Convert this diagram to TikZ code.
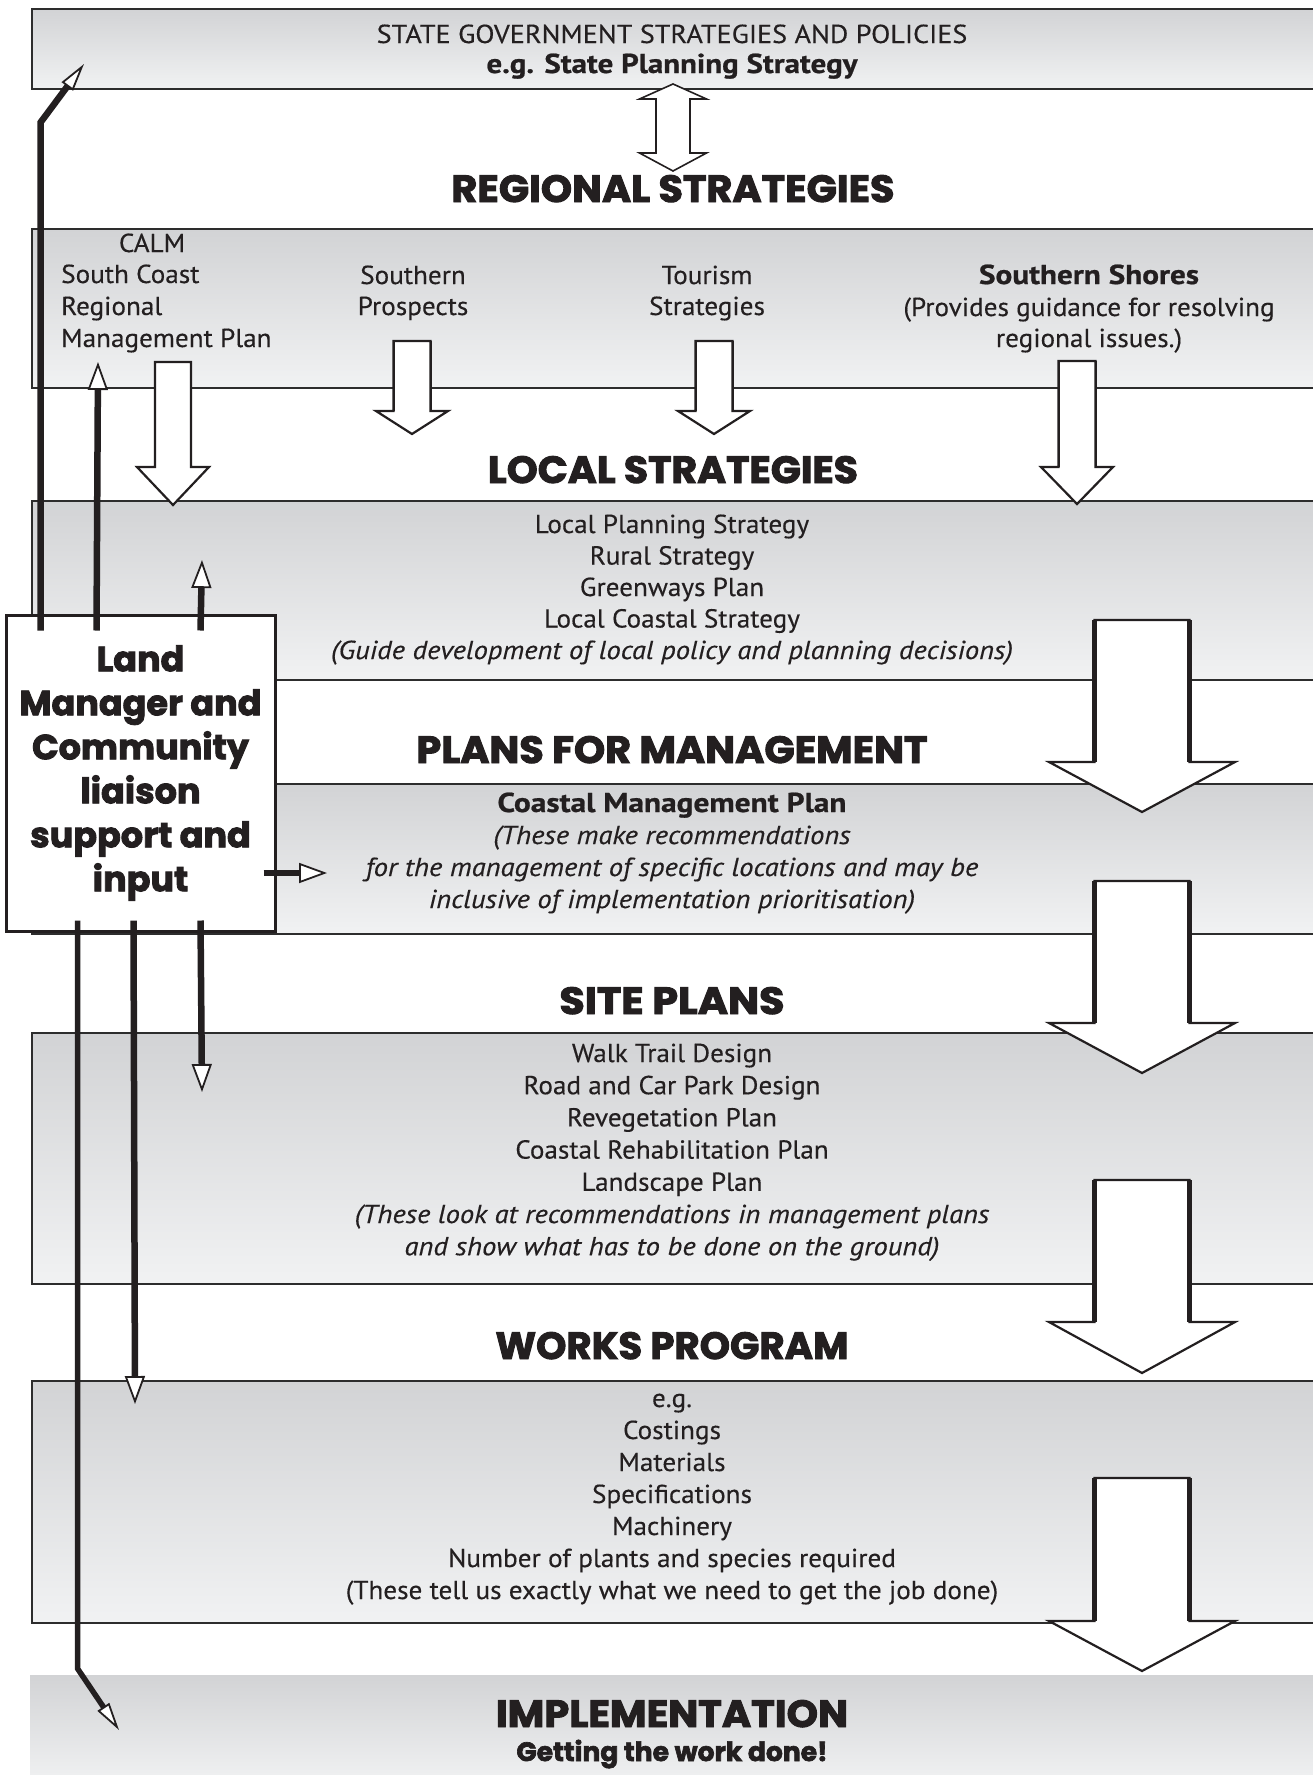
\documentclass[tikz,border=0pt]{standalone}
\usepackage{fontspec}
\usepackage{graphicx}
\setmainfont{PT Sans}[UprightFeatures={FakeStretch=1.045, FakeBold=0.3}, ItalicFeatures={FakeStretch=1.1, FakeBold=0.3},
  BoldFeatures={FakeStretch=1.18, FakeBold=0.8}]
\newfontfamily\heavyfont{Poppins}[BoldFeatures={FakeBold=2.5}]
\usetikzlibrary{arrows.meta,calc}
\definecolor{ink}{RGB}{35,31,32}
\definecolor{bandtop}{RGB}{210,211,213}
\definecolor{bandbot}{RGB}{241,242,243}
\definecolor{edge}{RGB}{45,45,45}
\newcommand\HeadTxt[2]{\resizebox{#1pt}{27pt}{\heavyfont\bfseries #2}}
\newcommand\BoldTxt[2]{\resizebox{#1pt}{19.5pt}{\bfseries #2}}
\newcommand\BlkArrow[7]{%
  \draw[line width=2.2pt, draw=ink, fill=white, line join=miter]
   (#1-#5,#2) -- (#1+#5,#2) -- (#1+#5,#3) -- (#1+#6,#3) -- (#1,#4)
   -- (#1-#6,#3) -- (#1-#5,#3) -- cycle;
  \draw[line width=#7, draw=ink] (#1-#5,#2) -- (#1-#5,#3) (#1+#5,#2) -- (#1+#5,#3);}
\tikzset{
  band/.style={draw=edge, line width=2pt, top color=bandtop, bottom color=bandbot, inner sep=0, anchor=north west},
  txt/.style={font=\fontsize{26}{31.5}\selectfont, text=ink, inner sep=0, anchor=base},
  hd/.style={text=ink, inner sep=0, anchor=base},
  lmbox/.style={draw=ink, line width=3pt, fill=white, inner sep=0, minimum width=269pt, minimum height=316pt,
     align=center, text=ink, font=\heavyfont\bfseries\fontsize{35}{44}\selectfont},
  feed/.style={line width=6.5pt, draw=ink},
  headA/.style={-{Triangle[length=28pt, width=14pt, line width=1.8pt, fill=white]}},
  headB/.style={-{Triangle[length=28pt, width=20pt, line width=1.8pt, fill=white]}},
}
\begin{document}
\begin{tikzpicture}[x=1pt,y=-1pt]
\useasboundingbox (0,0) rectangle (1312,1775);
% bands
\node[band, minimum width=1300pt, minimum height=80pt] (b1) at (31,8) {};
\node[band, minimum width=1300pt, minimum height=159pt] (b2) at (31,228) {};
\node[band, minimum width=1300pt, minimum height=179pt] (b3) at (31,500) {};
\node[band, minimum width=1300pt, minimum height=150pt] (b4) at (31,783) {};
\node[band, minimum width=1300pt, minimum height=251pt] (b5) at (31,1032) {};
\node[band, minimum width=1300pt, minimum height=242pt] (b6) at (31,1380) {};
\node[band, draw=none, minimum width=1300pt, minimum height=110pt] (b7) at (29,1674) {};
% state
\node[txt] (st1) at (672,43) {\scalebox{1.035}[1]{STATE GOVERNMENT STRATEGIES AND POLICIES}};
\node[txt] (st2) at (672,73) {\BoldTxt{371}{e.g. State Planning Strategy}};
% double arrow
\draw[line width=1.6pt, draw=ink, fill=white, line join=miter]
  (673,84) -- (706.5,99) -- (690,99) -- (690,153) -- (706.5,153) -- (673,171)
  -- (639.5,153) -- (656,153) -- (656,99) -- (639.5,99) -- cycle;
% headings
\node[hd] (h1) at (673,202) {\HeadTxt{443}{REGIONAL STRATEGIES}};
\node[hd] (h2) at (673,483) {\HeadTxt{370}{LOCAL STRATEGIES}};
\node[hd] (h3) at (672,763) {\HeadTxt{511}{PLANS FOR MANAGEMENT}};
\node[hd] (h4) at (672,1014) {\HeadTxt{225}{SITE PLANS}};
\node[hd] (h5) at (672,1359) {\HeadTxt{353}{WORKS PROGRAM}};
\node[hd] (h6) at (672,1727) {\HeadTxt{352}{IMPLEMENTATION}};
\node[hd] (h7) at (672,1761) {\resizebox{311pt}{!}{\heavyfont\bfseries Getting the work done!}};
% regional column texts
\node[txt] (calm) at (152,252) {CALM};
\node[txt, anchor=base west] (calm1) at (61,283) {South Coast};
\node[txt, anchor=base west] (calm2) at (61,315) {Regional};
\node[txt, anchor=base west] (calm3) at (61,347) {Management Plan};
\node[txt] (sp1) at (413,284) {Southern};
\node[txt] (sp2) at (413,315) {Prospects};
\node[txt] (ts1) at (707,284) {Tourism};
\node[txt] (ts2) at (707,315) {Strategies};
\node[txt] (ss1) at (1089,284) {\BoldTxt{220}{Southern Shores}};
\node[txt] (ss2) at (1089,316) {(Provides guidance for resolving};
\node[txt] (ss3) at (1089,347) {regional issues.)};
% local
\foreach \t [count=\i from 0] in {Local Planning Strategy, Rural Strategy, Greenways Plan, Local Coastal Strategy,
   \textit{(Guide development of local policy and planning decisions)}}
  \node[txt] (loc\i) at (672,533+31.5*\i) {\t};
% plans
\foreach \t [count=\i from 0] in {\BoldTxt{349}{Coastal Management Plan}, \textit{(These make recommendations},
   \textit{for the management of specific locations and may be}, \textit{inclusive of implementation prioritisation)}}
  \node[txt] (pl\i) at (672,812+32*\i) {\t};
% site
\foreach \t [count=\i from 0] in {Walk Trail Design, Road and Car Park Design, Revegetation Plan,
   Coastal Rehabilitation Plan, Landscape Plan, \textit{(These look at recommendations in management plans},
   \textit{and show what has to be done on the ground)}}
  \node[txt] (si\i) at (672,1062+32.2*\i) {\t};
% works
\foreach \t [count=\i from 0] in {e.g., Costings, Materials, Specifications, Machinery,
   Number of plants and species required, (These tell us exactly what we need to get the job done)}
  \node[txt] (wk\i) at (672,1407+32*\i) {\t};
% block arrows
\BlkArrow{173}{362}{467}{505}{18}{36}{2pt}
\BlkArrow{412}{341}{411}{434}{18.5}{36}{2pt}
\BlkArrow{714}{341}{411}{434}{18.5}{36}{2pt}
\BlkArrow{1077}{361}{467}{504}{18.5}{36}{2pt}
\BlkArrow{1142}{620}{762}{812}{47.5}{93}{4.5pt}
\BlkArrow{1142}{881}{1023}{1073}{47.5}{93}{4.5pt}
\BlkArrow{1142}{1180}{1322}{1373}{47.5}{93}{4.5pt}
\BlkArrow{1142}{1478}{1621}{1671}{47.5}{93}{4.5pt}
% land manager box
\node[lmbox] (lm) at (140.5,773) {Land\\Manager and\\Community\\liaison\\support and\\input};
% connectors
\coordinate (toState) at (84,64);
\coordinate (toRegional) at (98,362);
\coordinate (toLocal) at (202,560);
\coordinate (toPlans) at (327,873);
\coordinate (toSite) at (202,1092);
\coordinate (toWorks) at (135,1404);
\coordinate (toImpl) at (119,1730);
\draw[feed, headA] ($(lm.north west)+(36,17)$) -- ++(0,-508) -- (toState);
\draw[feed, headB] ($(lm.north west)+(92,17)$) -- (toRegional);
\draw[feed, headB] ($(lm.north west)+(196,17)$) -- (toLocal);
\draw[feed, headB] ($(lm.east)+(-13,100)$) -- (toPlans);
\draw[feed, headB] ($(lm.south west)+(196,-12)$) -- (toSite);
\draw[feed, headB] ($(lm.south west)+(129,-12)$) -- (toWorks);
\draw[feed, line width=5.5pt, headA] ($(lm.south west)+(73,-12)$) -- ++(0,748) -- (toImpl);
\end{tikzpicture}
\end{document}
